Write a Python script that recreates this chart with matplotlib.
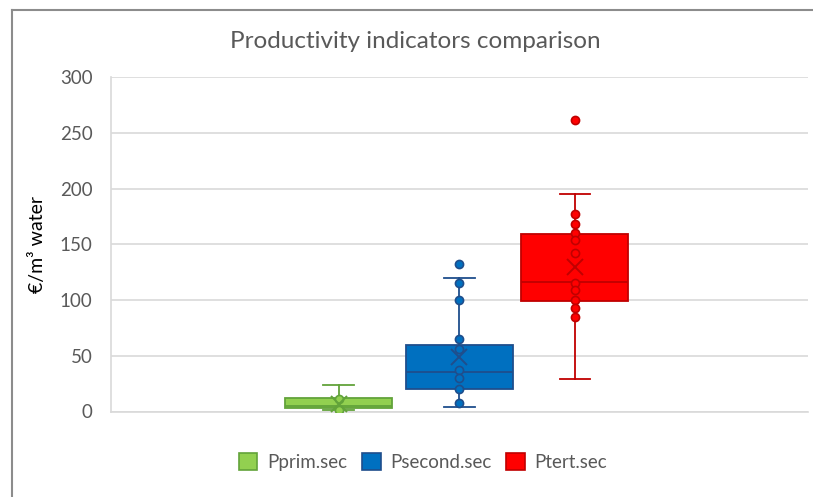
import matplotlib

matplotlib.use("Agg")
import matplotlib.pyplot as plt  # noqa: E402
from matplotlib.lines import Line2D  # noqa: E402
from matplotlib.patches import Patch  # noqa: E402

plt.rcParams["font.family"] = ["Lato", "DejaVu Sans"]

series = ["Pprim.sec", "Psecond.sec", "Ptert.sec"]
q1 = [3, 20, 99]
median = [5, 35, 116]
q3 = [12, 60, 159]
whis_lo = [1.5, 4, 29]
whis_hi = [24, 120, 195]
means = [7, 49, 130]
pts_prim = [1.5, 11]
pts_second = [132, 115, 100, 65, 56, 37, 30, 20, 8]
pts_tert = [261, 177, 168, 160, 154, 142, 115, 109, 100, 93, 85]
yticks = [0, 50, 100, 150, 200, 250, 300]

fills = ["#92D050", "#0070C0", "#FF0000"]
edges = ["#62A33A", "#1F4E8C", "#C00000"]
grey = "#595959"

W, H = 813, 497
fig = plt.figure(figsize=(W / 100, H / 100), dpi=100)
ax = fig.add_axes([110.7 / W, 1 - 411.5 / H, 697 / W, 334.5 / H])

positions = [-1.02, 0.0, 0.98]
points = [pts_prim, pts_second, pts_tert]
for i, pos in enumerate(positions):
    stats = [dict(q1=q1[i], med=median[i], q3=q3[i], whislo=whis_lo[i],
                  whishi=whis_hi[i], mean=means[i], fliers=[])]
    ax.bxp(stats, positions=[pos], widths=0.905, patch_artist=True,
           showmeans=True, meanline=False, showfliers=False,
           boxprops=dict(facecolor=fills[i], edgecolor=edges[i], linewidth=1.3),
           medianprops=dict(color=edges[i], linewidth=1.3),
           whiskerprops=dict(color=edges[i], linewidth=1.3),
           capprops=dict(color=edges[i], linewidth=1.3),
           capwidths=0.26,
           meanprops=dict(marker="x", markersize=11, markeredgecolor=edges[i],
                          markeredgewidth=1.4, zorder=5))
    ax.scatter([pos] * len(points[i]), points[i], s=34, color=fills[i],
               edgecolor=edges[i], linewidth=1.2, zorder=4)

ax.set_xlim(-2.953, 2.953)
ax.set_ylim(0, 300)
ax.set_yticks(yticks)
ax.set_xticks([])
ax.tick_params(axis="y", length=0, labelsize=13.5, labelcolor=grey, pad=13)
ax.yaxis.grid(True, color="#D9D9D9", linewidth=1.2)
ax.set_axisbelow(True)
for s in ["top", "right"]:
    ax.spines[s].set_visible(False)
ax.spines["left"].set_color("#D9D9D9")
ax.spines["bottom"].set_color("#D9D9D9")
ax.spines["left"].set_linewidth(1.2)
ax.spines["bottom"].set_linewidth(1.2)

ax.set_ylabel("€/m³ water", fontsize=14, color="black", labelpad=10)

fig.text(0.511, 1 - 41 / H, "Productivity indicators comparison",
         ha="center", va="center", fontsize=17.5, color=grey)

handles = [Patch(facecolor=fills[i], edgecolor=edges[i], linewidth=1.2,
                 label=series[i]) for i in range(3)]
fig.legend(handles=handles, loc="center", bbox_to_anchor=(0.52, 1 - 462 / H),
           ncol=3, frameon=False, fontsize=13.5, labelcolor=grey,
           handlelength=1.0, handleheight=1.0, handletextpad=0.5,
           columnspacing=0.8)

# outer chart frame (clipped on right and bottom as in the source image)
frame_kw = dict(color="#8C8C8C", linewidth=1.5, transform=fig.transFigure)
fig.add_artist(Line2D([11.5 / W, 11.5 / W], [0, 1 - 9.5 / H], **frame_kw))
fig.add_artist(Line2D([11.5 / W, 1], [1 - 9.5 / H, 1 - 9.5 / H], **frame_kw))

fig.savefig("out.png", dpi=100)
